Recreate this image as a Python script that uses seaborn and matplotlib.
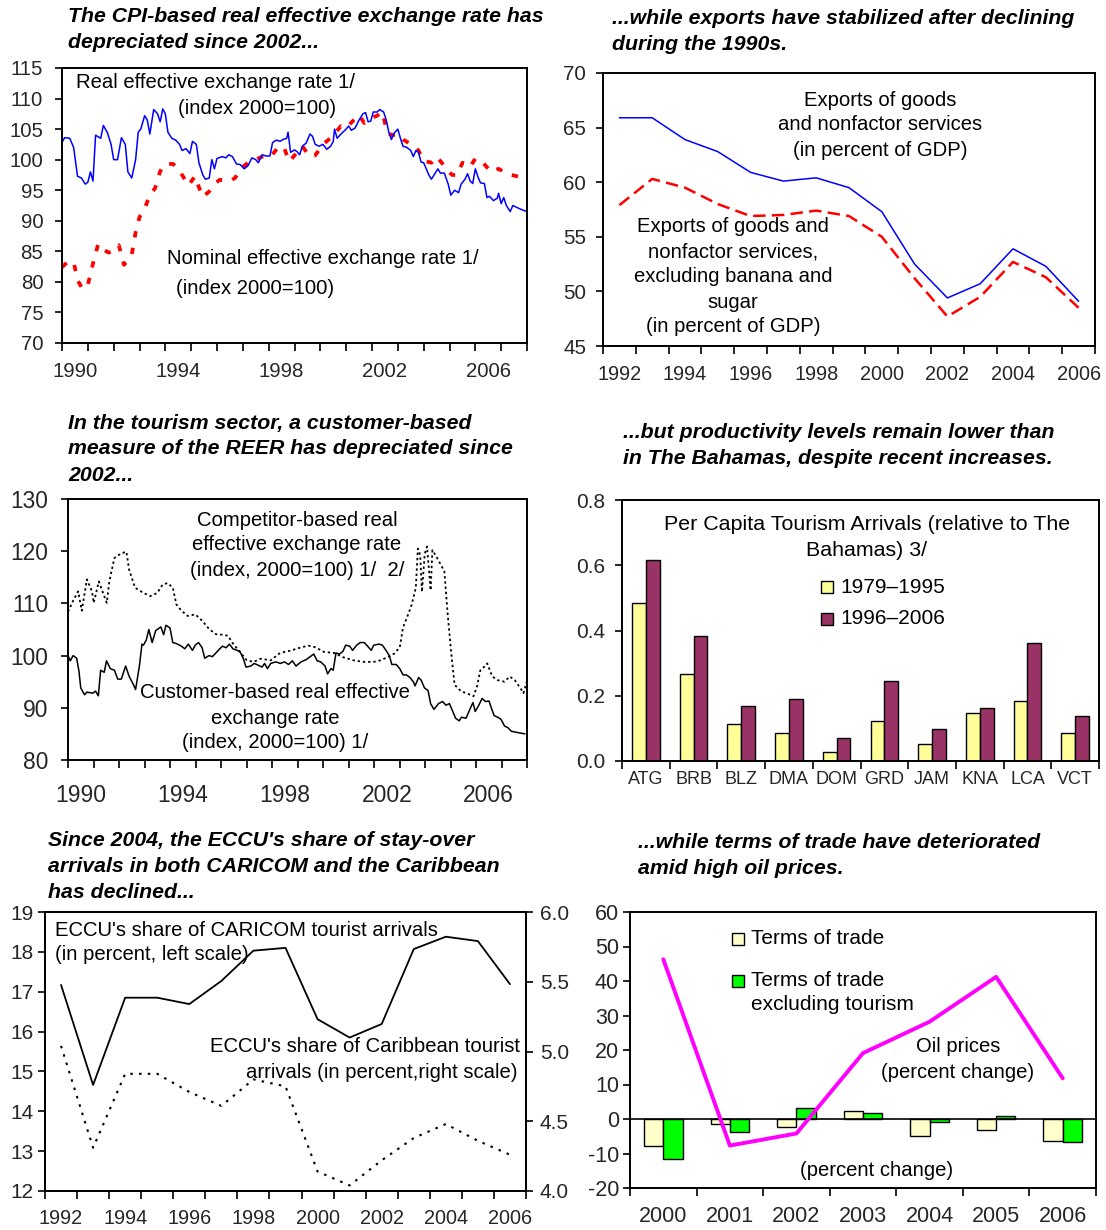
import numpy as np
import pandas as pd
import matplotlib
matplotlib.use("Agg")
import matplotlib.pyplot as plt
from matplotlib.ticker import FixedLocator, NullFormatter, FormatStrFormatter
from matplotlib.patches import Rectangle
import seaborn as sns

W, H = 1106, 1230

# ---------------- data ----------------
# panel 1: monthly-ish readings (year, index 2000=100)
reer = [(1990.0, 102.8), (1990.1, 103.6), (1990.3, 103.5), (1990.45, 102.0), (1990.6, 97.3), (1990.75, 97.0),
        (1990.9, 96.0), (1991.0, 96.3), (1991.1, 98.0), (1991.2, 96.5), (1991.3, 104.0), (1991.5, 103.5),
        (1991.6, 105.6), (1991.75, 104.5), (1991.9, 102.5), (1992.0, 100.0), (1992.15, 100.0), (1992.3, 103.6),
        (1992.45, 102.5), (1992.55, 98.0), (1992.7, 97.0), (1992.85, 100.0), (1992.95, 104.5), (1993.05, 105.0),
        (1993.2, 107.2), (1993.3, 106.5), (1993.4, 104.2), (1993.55, 108.2), (1993.7, 107.5), (1993.8, 106.2),
        (1993.9, 108.3), (1994.0, 107.5), (1994.1, 104.5), (1994.25, 103.5), (1994.4, 103.2), (1994.55, 102.5),
        (1994.65, 101.5), (1994.8, 101.8), (1994.95, 101.0), (1995.05, 103.0), (1995.2, 102.5), (1995.3, 99.5),
        (1995.45, 97.5), (1995.55, 96.8), (1995.7, 97.0), (1995.8, 100.0), (1995.9, 98.5), (1996.0, 100.2),
        (1996.2, 100.5), (1996.35, 100.3), (1996.45, 100.8), (1996.6, 100.5), (1996.75, 99.3), (1996.9, 99.2),
        (1997.05, 98.5), (1997.2, 99.0), (1997.35, 100.3), (1997.5, 100.0), (1997.6, 99.5), (1997.75, 100.8),
        (1997.9, 100.6), (1998.05, 100.6), (1998.15, 102.8), (1998.3, 103.2), (1998.45, 103.0), (1998.55, 103.3),
        (1998.7, 103.5), (1998.75, 104.5), (1998.85, 101.2), (1999.0, 101.6), (1999.1, 101.3), (1999.2, 100.8),
        (1999.3, 102.2), (1999.45, 102.7), (1999.6, 104.2), (1999.7, 103.8), (1999.8, 102.5), (1999.95, 102.2),
        (2000.1, 102.5), (2000.25, 101.7), (2000.4, 102.2), (2000.5, 103.0), (2000.55, 105.0), (2000.65, 103.5),
        (2000.8, 104.2), (2000.95, 104.8), (2001.1, 105.5), (2001.2, 104.8), (2001.35, 105.2), (2001.5, 106.5),
        (2001.65, 107.5), (2001.75, 107.7), (2001.85, 106.2), (2001.95, 106.3), (2002.05, 107.8), (2002.2, 107.8),
        (2002.3, 108.2), (2002.45, 107.8), (2002.55, 106.5), (2002.65, 104.5), (2002.75, 103.3), (2002.85, 104.3),
        (2003.0, 105.0), (2003.1, 103.5), (2003.2, 102.2), (2003.35, 102.0), (2003.5, 101.5), (2003.6, 100.5),
        (2003.7, 101.5), (2003.8, 101.2), (2003.9, 99.6), (2004.0, 99.5), (2004.1, 98.5), (2004.2, 97.5),
        (2004.3, 96.8), (2004.45, 97.8), (2004.55, 98.5), (2004.65, 97.8), (2004.8, 97.8), (2004.95, 96.0),
        (2005.05, 94.2), (2005.2, 95.0), (2005.35, 94.6), (2005.45, 96.0), (2005.6, 96.8), (2005.7, 97.7),
        (2005.8, 96.5), (2005.9, 96.1), (2006.0, 98.5), (2006.1, 97.2), (2006.2, 96.2), (2006.35, 96.1),
        (2006.45, 93.8), (2006.55, 94.0), (2006.7, 93.3), (2006.85, 93.7), (2006.9, 94.5), (2007.0, 92.8),
        (2007.1, 93.8), (2007.2, 92.5), (2007.35, 91.5), (2007.45, 92.5), (2007.6, 92.2), (2007.75, 91.9),
        (2008.0, 91.5)]

neer = [(1990.0, 82.4), (1990.2, 83.2), (1990.45, 83.3), (1990.6, 80.3), (1990.8, 78.8), (1991.0, 79.5),
        (1991.2, 83.0), (1991.4, 86.2), (1991.6, 85.3), (1991.8, 84.8), (1991.95, 85.0), (1992.2, 86.0),
        (1992.4, 82.8), (1992.55, 83.5), (1992.7, 84.5), (1992.85, 88.1), (1993.0, 90.6), (1993.2, 92.0),
        (1993.4, 94.2), (1993.6, 95.3), (1993.8, 98.1), (1994.0, 99.3), (1994.3, 99.3), (1994.5, 98.5),
        (1994.9, 95.8), (1995.15, 97.3), (1995.3, 95.5), (1995.45, 93.9), (1995.7, 94.8), (1995.9, 96.0),
        (1996.1, 96.7), (1996.5, 96.5), (1996.7, 97.0), (1996.9, 98.5), (1997.2, 99.5), (1997.5, 100.0),
        (1997.8, 100.6), (1998.1, 100.6), (1998.4, 102.2), (1998.6, 101.9), (1998.8, 99.7), (1999.1, 101.2),
        (1999.3, 102.2), (1999.6, 100.5), (1999.8, 100.7), (2000.1, 102.5), (2000.3, 103.2), (2000.5, 104.0),
        (2000.8, 105.5), (2001.0, 105.2), (2001.3, 106.5), (2001.5, 107.3), (2001.7, 106.0), (2001.9, 106.7),
        (2002.2, 107.2), (2002.4, 107.8), (2002.6, 104.3), (2002.8, 104.0), (2003.0, 104.2), (2003.2, 103.3),
        (2003.4, 102.8), (2003.6, 102.3), (2003.8, 101.5), (2004.0, 99.8), (2004.3, 99.5), (2004.5, 100.5),
        (2004.7, 99.5), (2004.9, 98.3), (2005.1, 97.5), (2005.3, 97.5), (2005.5, 99.5), (2005.8, 98.8),
        (2006.0, 100.2), (2006.3, 99.5), (2006.6, 98.0), (2006.9, 98.5), (2007.1, 98.0), (2007.4, 97.5),
        (2007.7, 97.2), (2008.0, 96.7)]

# panel 2: exports, percent of GDP
exp_years = list(range(1992, 2007))
exp_total = [65.9, 65.9, 63.9, 62.8, 60.9, 60.1, 60.4, 59.5, 57.3, 52.5, 49.4, 50.7, 53.9, 52.3, 49.1]
exp_ex_banana = [57.9, 60.3, 59.5, 58.0, 56.9, 57.0, 57.4, 56.9, 55.0, 51.2, 47.7, 49.5, 52.7, 51.3, 48.5]

# panel 3: tourism REERs (index, 2000=100)
competitor = [(1990.00, 108.4), (1990.20, 110.5), (1990.40, 112.3), (1990.54, 108.6), (1990.74, 114.6),
              (1990.94, 112.3), (1991.01, 110.1), (1991.15, 113.0), (1991.21, 114.2), (1991.35, 112.3),
              (1991.52, 110.1), (1991.62, 114.2), (1991.82, 118.7), (1992.09, 119.6), (1992.29, 119.9),
              (1992.40, 116.4), (1992.63, 113.0), (1992.96, 112.0), (1993.23, 111.4), (1993.50, 112.0),
              (1993.71, 113.6), (1993.91, 113.9), (1994.11, 113.0), (1994.25, 109.8), (1994.45, 108.6),
              (1994.69, 107.6), (1994.99, 107.9), (1995.26, 106.7), (1995.53, 105.1), (1995.80, 104.1),
              (1996.06, 104.0), (1996.27, 103.8), (1996.47, 102.3), (1996.74, 100.7), (1997.01, 99.1),
              (1997.28, 98.8), (1997.55, 99.4), (1997.95, 99.1), (1998.29, 100.4), (1998.49, 100.7),
              (1998.76, 101.0), (1999.16, 101.6), (1999.43, 101.9), (1999.70, 101.6), (2000.04, 100.7),
              (2000.44, 100.5), (2000.78, 99.7), (2001.19, 99.1), (2001.59, 98.8), (2001.99, 98.8),
              (2002.26, 99.1), (2002.53, 99.7), (2002.80, 100.4), (2003.01, 101.6), (2003.14, 105.4),
              (2003.34, 107.9), (2003.48, 109.8), (2003.64, 113.0), (2003.72, 120.5), (2003.81, 119.3),
              (2003.88, 112.2), (2003.99, 119.5), (2004.08, 120.9), (2004.22, 112.5), (2004.29, 120.2),
              (2004.42, 119.2), (2004.62, 117.4), (2004.76, 116.1), (2004.89, 107.9), (2005.03, 100.4),
              (2005.16, 94.4), (2005.43, 93.1), (2005.63, 92.8), (2005.90, 92.2), (2006.04, 94.1),
              (2006.17, 97.2), (2006.31, 97.8), (2006.44, 98.5), (2006.64, 96.0), (2006.85, 95.3),
              (2007.12, 95.0), (2007.32, 96.0), (2007.52, 95.3), (2007.79, 93.4), (2007.86, 92.8),
              (2007.99, 95.0)]

customer = [(1990.00, 100.0), (1990.09, 99.0), (1990.20, 100.0), (1990.34, 99.5), (1990.43, 97.0), (1990.50, 93.8),
            (1990.65, 92.5), (1990.74, 93.0), (1990.97, 92.8), (1991.08, 93.2), (1991.19, 92.3), (1991.28, 97.2),
            (1991.42, 96.8), (1991.51, 99.0), (1991.66, 97.5), (1991.82, 97.2), (1991.95, 95.5), (1992.09, 95.5),
            (1992.26, 98.0), (1992.40, 96.0), (1992.56, 94.5), (1992.65, 93.5), (1992.80, 98.0), (1992.90, 102.2),
            (1992.96, 102.0), (1993.07, 103.0), (1993.17, 105.0), (1993.30, 102.5), (1993.44, 104.8), (1993.64, 105.5),
            (1993.75, 104.0), (1993.84, 105.8), (1994.00, 105.3), (1994.11, 102.5), (1994.25, 102.3), (1994.45, 101.8),
            (1994.58, 101.3), (1994.72, 102.2), (1994.88, 101.0), (1994.99, 102.0), (1995.12, 102.5), (1995.26, 101.5),
            (1995.36, 99.5), (1995.53, 100.0), (1995.66, 99.8), (1995.80, 100.5), (1995.93, 101.2), (1996.06, 101.8),
            (1996.20, 101.5), (1996.33, 102.2), (1996.47, 101.3), (1996.63, 101.0), (1996.74, 100.8), (1996.87, 99.5),
            (1996.98, 97.8), (1997.17, 98.0), (1997.30, 98.5), (1997.44, 98.2), (1997.61, 97.8), (1997.71, 98.5),
            (1997.82, 97.5), (1997.95, 98.5), (1998.15, 98.8), (1998.33, 98.5), (1998.49, 98.8), (1998.65, 98.3),
            (1998.80, 99.0), (1998.94, 98.0), (1999.14, 98.8), (1999.33, 99.2), (1999.50, 99.8), (1999.64, 100.3),
            (1999.77, 99.0), (1999.91, 98.8), (2000.08, 98.0), (2000.18, 96.5), (2000.31, 97.5), (2000.40, 97.2),
            (2000.51, 100.5), (2000.65, 100.3), (2000.78, 100.8), (2000.89, 102.0), (2001.05, 101.8), (2001.16, 101.0),
            (2001.32, 102.0), (2001.46, 102.5), (2001.62, 102.5), (2001.75, 101.8), (2001.89, 101.0), (2001.99, 102.0),
            (2002.20, 102.2), (2002.33, 102.0), (2002.47, 101.0), (2002.60, 100.0), (2002.70, 98.3), (2002.87, 98.3),
            (2003.01, 97.5), (2003.14, 96.3), (2003.27, 96.3), (2003.41, 95.8), (2003.54, 95.0), (2003.61, 94.2),
            (2003.75, 95.8), (2003.85, 95.3), (2003.98, 93.8), (2004.12, 93.3), (2004.22, 90.8), (2004.35, 89.7),
            (2004.53, 90.8), (2004.69, 91.2), (2004.82, 90.5), (2004.96, 90.8), (2005.07, 89.5), (2005.20, 88.0),
            (2005.34, 87.5), (2005.43, 88.2), (2005.61, 88.0), (2005.74, 89.5), (2005.88, 91.0), (2005.97, 89.3),
            (2006.11, 90.5), (2006.24, 91.8), (2006.37, 91.2), (2006.51, 91.3), (2006.60, 90.0), (2006.71, 88.5),
            (2006.85, 88.2), (2006.98, 87.8), (2007.12, 86.5), (2007.25, 86.2), (2007.39, 85.5), (2007.59, 85.3),
            (2007.92, 85.0)]

# panel 4: per capita tourism arrivals relative to The Bahamas
countries = ["ATG", "BRB", "BLZ", "DMA", "DOM", "GRD", "JAM", "KNA", "LCA", "VCT"]
arrivals_79_95 = [0.484, 0.266, 0.113, 0.085, 0.028, 0.123, 0.051, 0.148, 0.185, 0.085]
arrivals_96_06 = [0.617, 0.382, 0.170, 0.190, 0.071, 0.246, 0.099, 0.161, 0.361, 0.137]
periods = ["1979\u20131995", "1996\u20132006"]

# panel 5: ECCU shares of tourist arrivals (percent)
share_years = list(range(1992, 2007))
share_caricom = [17.17, 14.66, 16.85, 16.85, 16.69, 17.27, 18.03, 18.10, 16.31, 15.85, 16.19, 18.07, 18.38, 18.27, 17.19]
share_caribbean = [5.04, 4.31, 4.84, 4.84, 4.71, 4.61, 4.80, 4.75, 4.14, 4.04, 4.22, 4.38, 4.48, 4.36, 4.26]

# panel 6: terms of trade and oil prices (percent change)
tot_years = ["2000", "2001", "2002", "2003", "2004", "2005", "2006"]
tot = [-7.9, -1.4, -2.4, 2.2, -5.0, -3.2, -6.5]
tot_ex_tourism = [-11.7, -3.7, 3.1, 1.7, -1.0, 0.9, -6.8]
oil_prices = [46.3, -7.7, -4.2, 19.1, 28.2, 41.2, 11.8]

# ---------------- figure ----------------
sns.set_theme(style="white")
plt.rcParams["font.family"] = ["Liberation Sans", "DejaVu Sans"]
plt.rcParams["axes.unicode_minus"] = False

fig = plt.figure(figsize=(W / 100, H / 100), dpi=100)
NOTE = 14.6


def add_box(l, t, r, b, ysize, ypad=3):
    ax = fig.add_axes([l / W, 1 - b / H, (r - l) / W, (b - t) / H])
    for s in ax.spines.values():
        s.set_visible(True)
        s.set_color("black")
        s.set_linewidth(1.4)
    ax.set_facecolor("white")
    ax.tick_params(axis="y", which="major", direction="out", length=5, width=1.2,
                   color="black", left=True, labelsize=ysize, pad=ypad)
    return ax


def cat_xaxis(ax, edges, centers, labels, pad, size):
    # excel-style: ticks on category edges, labels in the middle
    ax.xaxis.set_major_locator(FixedLocator(centers))
    ax.set_xticklabels(labels)
    ax.xaxis.set_minor_locator(FixedLocator(edges))
    ax.xaxis.set_minor_formatter(NullFormatter())
    ax.tick_params(axis="x", which="major", length=0, labelsize=size, pad=pad)
    ax.tick_params(axis="x", which="minor", direction="out", length=6, width=1.2,
                   color="black", bottom=True)
    ax.set_xlabel("")
    ax.set_ylabel("")


def note(x, y, s, size=NOTE, ha="center", **kw):
    fig.text(x / W, 1 - y / H, s, ha=ha, va="center", fontsize=size, color="black", **kw)


def title(x, ys, lines):
    for y, s in zip(ys, lines):
        fig.text(x / W, 1 - y / H, s, ha="left", va="center", fontsize=15.3,
                 fontweight="bold", fontstyle="italic", color="black")


def key(x, y, color, label, size):
    # small legend square with its label
    fig.add_artist(Rectangle((x / W, 1 - (y + 6) / H), 12 / W, 12 / H, transform=fig.transFigure,
                             facecolor=color, edgecolor="black", linewidth=1.0))
    note(x + 19, y, label, size=size, ha="left")


# ---- panel 1
ax1 = add_box(62, 68, 527, 343, 14.7, ypad=8.5)
df_reer = pd.DataFrame(reer, columns=["t", "v"])
df_neer = pd.DataFrame(neer, columns=["t", "v"])
sns.lineplot(data=df_neer, x="t", y="v", ax=ax1, color="#FF0000", linewidth=2.7,
             linestyle=(0, (1.7, 2.8)), errorbar=None)
sns.lineplot(data=df_reer, x="t", y="v", ax=ax1, color="#0000FF", linewidth=1.1, errorbar=None)
ax1.set_xlim(1990, 2008)
ax1.set_ylim(70, 115)
ax1.set_yticks(range(70, 116, 5))
cat_xaxis(ax1, list(range(1990, 2009)), [1990.5, 1994.5, 1998.5, 2002.5, 2006.5],
          ["1990", "1994", "1998", "2002", "2006"], 14, 14.7)
title(68, [17, 42], ["The CPI-based real effective exchange rate has", "depreciated since 2002..."])
note(216, 83, "Real effective exchange rate 1/")
note(257, 108, "(index 2000=100)")
note(323, 258, "Nominal effective exchange rate 1/")
note(255, 289, "(index 2000=100)")

# ---- panel 2
ax2 = add_box(603, 73, 1095, 346, 14.8, ypad=7)
df_exp = pd.DataFrame({"year": exp_years, "total": exp_total, "ex": exp_ex_banana})
sns.lineplot(data=df_exp, x="year", y="ex", ax=ax2, color="#FF0000", linewidth=1.8,
             linestyle=(0, (5, 2.5)), errorbar=None)
sns.lineplot(data=df_exp, x="year", y="total", ax=ax2, color="#0000FF", linewidth=1.1, errorbar=None)
ax2.set_xlim(1991.5, 2006.5)
ax2.set_ylim(45, 70)
ax2.set_yticks(range(45, 71, 5))
cat_xaxis(ax2, list(np.arange(1991.5, 2007, 1.0)), exp_years[::2],
          [str(y) for y in exp_years[::2]], 14, 14.3)
title(612, [19, 45], ["...while exports have stabilized after declining", "during the 1990s."])
for y, s in zip([101, 125, 150], ["Exports of goods", "and nonfactor services", "(in percent of GDP)"]):
    note(880, y, s)
for y, s in zip([227, 252, 277, 302, 326], ["Exports of goods and", "nonfactor services,",
                                            "excluding banana and", "sugar", "(in percent of GDP)"]):
    note(733, y, s)

# ---- panel 3
ax3 = add_box(68, 499, 527, 760, 16.4, ypad=9)
df_comp = pd.DataFrame(competitor, columns=["t", "v"])
df_cust = pd.DataFrame(customer, columns=["t", "v"])
sns.lineplot(data=df_comp, x="t", y="v", ax=ax3, color="black", linewidth=1.3,
             linestyle=(0, (1.3, 1.6)), errorbar=None)
sns.lineplot(data=df_cust, x="t", y="v", ax=ax3, color="black", linewidth=1.1, errorbar=None)
ax3.set_xlim(1990, 2008)
ax3.set_ylim(80, 130)
ax3.set_yticks(range(80, 131, 10))
cat_xaxis(ax3, list(range(1990, 2009)), [1990.5, 1994.5, 1998.5, 2002.5, 2006.5],
          ["1990", "1994", "1998", "2002", "2006"], 17, 16.5)
title(68, [423, 449, 475], ["In the tourism sector, a customer-based",
                            "measure of the REER has depreciated since", "2002..."])
for y, s in zip([520, 545, 570], ["Competitor-based real", "effective exchange rate",
                                  "(index, 2000=100) 1/  2/"]):
    note(297, y, s)
for y, s in zip([693, 718, 743], ["Customer-based real effective", "exchange rate",
                                  "(index, 2000=100) 1/"]):
    note(275, y, s)

# ---- panel 4
ax4 = add_box(622, 500, 1099, 761, 15, ypad=7)
df_arr = pd.DataFrame({"country": countries * 2,
                       "value": arrivals_79_95 + arrivals_96_06,
                       "period": [periods[0]] * len(countries) + [periods[1]] * len(countries)})
bar_cols = ["#FFFF99", "#993366"]
sns.barplot(data=df_arr, x="country", y="value", hue="period", palette=bar_cols, width=0.58,
            saturation=1, edgecolor="black", linewidth=1.0, errorbar=None, legend=False, ax=ax4)
ax4.set_xlim(-0.5, len(countries) - 0.5)
ax4.set_ylim(0, 0.8)
ax4.set_yticks(np.arange(0, 0.81, 0.2))
ax4.yaxis.set_major_formatter(FormatStrFormatter("%.1f"))
cat_xaxis(ax4, list(np.arange(-0.5, len(countries), 1.0)), list(range(len(countries))), countries, 7, 13)
title(623, [432, 458], ["...but productivity levels remain lower than",
                        "in The Bahamas, despite recent increases."])
note(867, 525, "Per Capita Tourism Arrivals (relative to The", size=15.4)
note(867, 550, "Bahamas) 3/", size=15.4)
key(821, 587, bar_cols[0], periods[0], 15)
key(821, 619, bar_cols[1], periods[1], 15)

# ---- panel 5
ax5 = add_box(45, 912, 526, 1191, 15)
df_sh = pd.DataFrame({"year": share_years, "caricom": share_caricom, "carib": share_caribbean})
sns.lineplot(data=df_sh, x="year", y="caricom", ax=ax5, color="black", linewidth=1.3, errorbar=None)
ax5.set_xlim(1991.5, 2006.5)
ax5.set_ylim(12, 19)
ax5.set_yticks(range(12, 20))
cat_xaxis(ax5, list(np.arange(1991.5, 2007, 1.0)), share_years[::2],
          [str(y) for y in share_years[::2]], 13, 14.3)
ax5r = ax5.twinx()
sns.lineplot(data=df_sh, x="year", y="carib", ax=ax5r, color="black", linewidth=1.5,
             linestyle=(0, (1.2, 3.0)), errorbar=None)
ax5r.set_ylim(4.0, 6.0)
ax5r.set_yticks(np.arange(4.0, 6.01, 0.5))
ax5r.yaxis.set_major_formatter(FormatStrFormatter("%.1f"))
ax5r.tick_params(axis="y", direction="out", length=5, width=1.2, color="black", right=True,
                 labelsize=15, pad=5)
ax5r.set_ylabel("")
ax5r.grid(False)
for s in ax5r.spines.values():
    s.set_color("black")
    s.set_linewidth(1.4)
title(48, [841, 867, 893], ["Since 2004, the ECCU's share of stay-over",
                            "arrivals in both CARICOM and the Caribbean", "has declined..."])
note(55, 931, "ECCU's share of CARICOM tourist arrivals", ha="left")
note(55, 955, "(in percent, left scale)", ha="left")
note(520, 1047, "ECCU's share of Caribbean tourist", ha="right")
note(518, 1072, "arrivals (in percent,right scale)", ha="right")

# ---- panel 6
ax6 = add_box(630, 912, 1096, 1188, 15.5)
df_tot = pd.DataFrame({"year": tot_years * 2,
                       "value": tot + tot_ex_tourism,
                       "series": ["tot"] * len(tot_years) + ["tot_ex"] * len(tot_years)})
tot_cols = ["#FFFFCC", "#00FF00"]
sns.barplot(data=df_tot, x="year", y="value", hue="series", palette=tot_cols, width=0.58,
            saturation=1, edgecolor="black", linewidth=1.0, errorbar=None, legend=False, ax=ax6)
ax6.axhline(0, color="black", linewidth=1.2)
sns.lineplot(x=np.arange(len(tot_years)), y=oil_prices, ax=ax6, color="#FF00FF", linewidth=2.8,
             errorbar=None)
ax6.set_xlim(-0.5, len(tot_years) - 0.5)
ax6.set_ylim(-20, 60)
ax6.set_yticks(range(-20, 61, 10))
cat_xaxis(ax6, list(np.arange(-0.5, len(tot_years), 1.0)), list(range(len(tot_years))), tot_years, 13, 15.5)
title(638, [842, 868], ["...while terms of trade have deteriorated", "amid high oil prices."])
key(732, 939, tot_cols[0], "Terms of trade", 15)
key(732, 981, tot_cols[1], "Terms of trade", 15)
note(751, 1004, "excluding tourism", size=15, ha="left")
note(958, 1047, "Oil prices")
note(958, 1072, "(percent change)")
note(877, 1170, "(percent change)")

fig.savefig("out.png", dpi=100, facecolor="white")
